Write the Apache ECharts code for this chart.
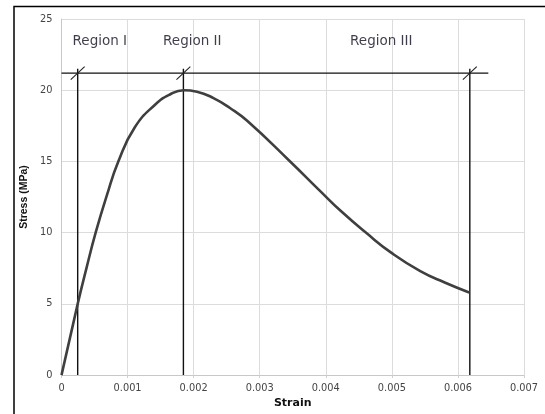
<!DOCTYPE html>
<html>
<head>
<meta charset="utf-8">
<script src="https://cdn.jsdelivr.net/npm/echarts@6/dist/echarts.min.js"></script>
<style>
html,body{margin:0;padding:0;background:#fff;}
#chart{width:545px;height:414px;}
</style>
</head>
<body>
<div id="chart"></div>
<script>
// Stress-strain curve (strain, stress MPa)
var strain = [0, 0.000245, 0.00038, 0.00052, 0.000685, 0.00086, 0.00111, 0.00142, 0.00164, 0.00185, 0.00205, 0.0023, 0.00255, 0.00281, 0.00346, 0.00392, 0.00422, 0.00462, 0.005, 0.00543, 0.0058, 0.00617];
var stress = [0, 5.0, 7.55, 10.05, 12.6, 15.0, 17.4, 19.0, 19.7, 20.0, 19.9, 19.45, 18.75, 17.85, 15.0, 12.9, 11.55, 9.95, 8.56, 7.3, 6.5, 5.8];
// Region boundaries (strain) and the boundary line stress level
var regionBounds = [0.000245, 0.001845, 0.00618];
var boundaryStress = 21.2;
var boundaryLineEnd = 0.00646;
var verticalTop = 21.5;
// Region labels
var regionNames = ['Region I', 'Region II', 'Region III'];
var regionLabelX = [0.00058, 0.00198, 0.00484];
var regionLabelY = 23.4;
// Axis ticks
var xTicks = [0, 0.001, 0.002, 0.003, 0.004, 0.005, 0.006, 0.007];
var yTicks = [0, 5, 10, 15, 20, 25];

var curve = strain.map(function (s, i) { return [s, stress[i]]; });

var series = [{
  type: 'line',
  data: curve,
  smooth: 0.5,
  symbol: 'none',
  lineStyle: { color: '#3f3f3f', width: 2.6 },
  z: 5
}, {
  type: 'line',
  data: [[0, boundaryStress], [boundaryLineEnd, boundaryStress]],
  symbol: 'none',
  lineStyle: { color: '#111', width: 1.3 },
  z: 4
}];
var sdx = 0.000105, sdy = 0.45;
regionBounds.forEach(function (b) {
  series.push({
    type: 'line', data: [[b, 0], [b, verticalTop]], symbol: 'none',
    lineStyle: { color: '#111', width: 1.4 }, z: 4
  });
  series.push({
    type: 'line', data: [[b - sdx, boundaryStress - sdy], [b + sdx, boundaryStress + sdy]], symbol: 'none',
    lineStyle: { color: '#222', width: 1.1 }, z: 4
  });
});
series.push({
  type: 'scatter',
  symbolSize: 0,
  data: regionNames.map(function (n, i) { return { value: [regionLabelX[i], regionLabelY], name: n }; }),
  label: {
    show: true, position: 'inside', formatter: '{b}',
    fontFamily: 'DejaVu Sans', fontSize: 13.5, color: '#0c0c1e'
  },
  z: 6
});

var chart = echarts.init(document.getElementById('chart'), null, { renderer: 'canvas' });
chart.setOption({
  animation: false,
  backgroundColor: '#fff',
  grid: { left: 61.5, right: 21, top: 19, bottom: 31, containLabel: false },
  xAxis: {
    type: 'value', min: xTicks[0], max: xTicks[xTicks.length - 1], interval: 0.001,
    name: 'Strain', nameLocation: 'middle', nameGap: 17,
    nameTextStyle: { fontFamily: 'DejaVu Sans', fontWeight: 'bold', fontSize: 11, color: '#111' },
    axisLine: { show: true, lineStyle: { color: '#c8c8c8', width: 1 } },
    axisTick: { show: true, length: 3, lineStyle: { color: '#d0d0d0' } },
    axisLabel: { fontFamily: 'DejaVu Sans', fontSize: 9.8, color: '#444', margin: 8,
      formatter: function (v) { return v === 0 ? '0' : v.toFixed(3); } },
    splitLine: { show: true, lineStyle: { color: '#dcdcdc', width: 1 } }
  },
  yAxis: {
    type: 'value', min: yTicks[0], max: yTicks[yTicks.length - 1], interval: 5,
    name: 'Stress (MPa)', nameLocation: 'middle', nameGap: 27,
    nameTextStyle: { fontFamily: 'Liberation Sans', fontWeight: 'bold', fontSize: 10.5, color: '#111' },
    axisLine: { show: true, lineStyle: { color: '#c8c8c8', width: 1 } },
    axisTick: { show: false },
    axisLabel: { fontFamily: 'DejaVu Sans', fontSize: 9.8, color: '#444', margin: 9 },
    splitLine: { show: true, lineStyle: { color: '#dcdcdc', width: 1 } }
  },
  graphic: [{
    type: 'rect', left: 11.5, top: 4,
    shape: { x: 0, y: 0, width: 600, height: 500 },
    style: { fill: 'none', stroke: '#000', lineWidth: 1.5 },
    silent: true
  }],
  series: series
});
</script>
</body>
</html>
